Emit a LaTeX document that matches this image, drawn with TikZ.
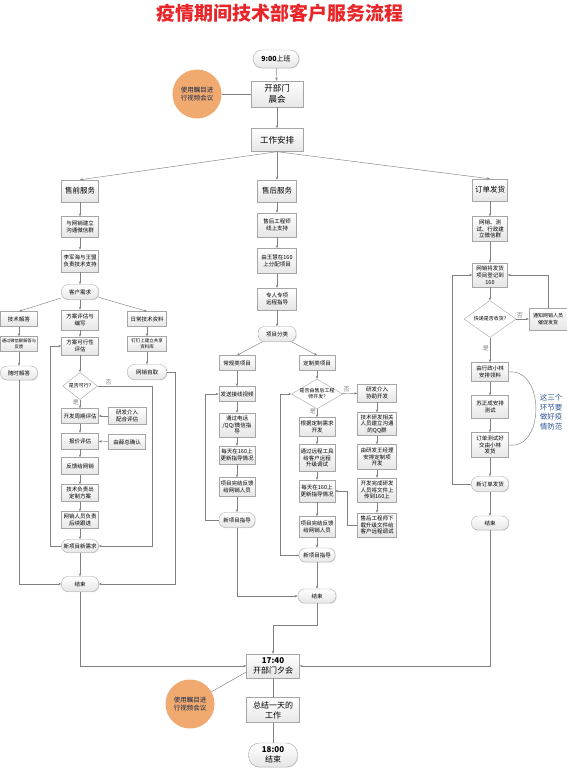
\documentclass[tikz,border=0pt]{standalone}
\usepackage{fontspec}
\setmainfont{Noto Sans CJK SC}
\usetikzlibrary{positioning,shapes.geometric,arrows.meta,shadows}

\definecolor{linegray}{HTML}{808080}
\definecolor{boxgray}{HTML}{E6E6E6}
\definecolor{meetorange}{HTML}{F0A96E}
\definecolor{titlered}{HTML}{E8262A}
\definecolor{noteblue}{HTML}{2F5597}

\tikzset{
  box/.style={draw=gray!70, top color=white, bottom color=boxgray,
    drop shadow={shadow xshift=0.7pt,shadow yshift=-0.7pt,opacity=0.25},
    align=center, inner sep=0.5pt, minimum width=37, minimum height=15,
    font=\fontsize{5.5}{6.8}\selectfont},
  head/.style={box, font=\fontsize{7.5}{9}\selectfont},
  term/.style={box, rounded corners=#1},
  term/.default=6.5pt,
  dec/.style={diamond, draw=gray!70, fill=white, inner sep=0pt, align=center,
    font=\fontsize{5}{6.2}\selectfont},
  meet/.style={circle, fill=meetorange, minimum size=49, inner sep=0pt, align=center,
    text=noteblue!50!black, font=\fontsize{6.5}{8.5}\selectfont},
  yn/.style={font=\fontsize{6}{7}\selectfont, inner sep=1pt},
  flow/.style={->, linegray, line width=0.45pt},
  conn/.style={linegray, line width=0.45pt}
}

\begin{document}
\begin{tikzpicture}[x=1pt, y=-1pt, >={Stealth[length=3pt,width=2.4pt]}]
    \useasboundingbox (0,0) rectangle (567,768);
    %title
    \node[font=\fontsize{19}{19}\selectfont\bfseries, text=titlered] (title) at (280,13) {疫情期间技术部客户服务流程};
    %morning
    \node[term=9pt, minimum width=46, minimum height=18, font=\fontsize{7}{8}\selectfont] (start) at (276,59) {\textbf{9:00}上班};
    \node[box, minimum width=52, minimum height=26, font=\fontsize{8.5}{11}\selectfont] (morning) at (277,94) {开部门\\晨会};
    \node[meet] (video1) at (197,94) {使用瞩目进\\行视频会议};
    \node[box, minimum width=52, minimum height=23, font=\fontsize{8.5}{10}\selectfont] (plan) at (277,140) {工作安排};
    %presales
    \node[head, minimum height=22] (sq) at (80,191) {售前服务};
    \node[box, minimum height=21] (wx) at (80,227) {与网销建立\\沟通微信群};
    \node[box, minimum height=22] (zc) at (80,261) {李军海与王盟\\负责技术支持};
    \node[term] (xq) at (80,292) {客户需求};
    \node[box] (jd) at (19,319) {技术解答};
    \node[box, minimum height=20] (pg) at (80,320) {方案评估与\\编写};
    \node[box, minimum width=39] (zl) at (147,319) {日常技术资料};
    \node[box, font=\fontsize{4.3}{5.5}\selectfont] (wxjd) at (19,344) {通过微信群解答与\\反馈};
    \node[box, minimum height=18] (kx) at (80,346) {方案可行性\\评估};
    \node[box, minimum width=39, font=\fontsize{4.5}{5.7}\selectfont] (gx) at (147,344) {钉钉上建立共享\\资料库};
    \node[term, minimum height=14] (ss) at (19,373) {随时解答};
    \node[term, minimum width=39] (zq) at (147,372) {网销自取};
    \node[dec, minimum width=35, minimum height=17] (kxq) at (80,386) {是否可行?};
    \node[box] (zq1) at (80,416) {开发周期评估};
    \node[box, minimum width=38, minimum height=17] (yf) at (127,416) {研发介入\\配合评估};
    \node[box, minimum height=16] (bj) at (80,441) {报价评估};
    \node[box] (xz) at (127,442) {由薛总确认};
    \node[box, minimum height=17] (fk) at (80,466) {反馈给网销};
    \node[box, minimum height=17] (dz) at (80,493) {技术负责出\\定制方案};
    \node[box, minimum height=17] (gj) at (80,520) {网销人员负责\\后续跟进};
    \node[term, minimum height=13] (xxq) at (80,546) {新项目新需求};
    \node[term] (end1) at (80,584) {结束};
    %aftersales
    \node[head, minimum width=39, minimum height=22] (sh) at (277,191) {售后服务};
    \node[box, minimum width=39, minimum height=24] (xs) at (277,225) {售后工程师\\线上支持};
    \node[box, minimum width=39, minimum height=25] (fp) at (277,261) {由王慧在160\\上分配项目};
    \node[box, minimum width=39, minimum height=22] (zx) at (277,299) {专人专项\\远程指导};
    \node[term, minimum width=38] (fl) at (277,334) {项目分类};
    \node[box, minimum width=36] (cg) at (237,363) {常规类项目};
    \node[box, minimum width=36] (dzl) at (317,363) {定制类项目};
    \node[box, minimum width=36] (sp) at (237,394) {发送接线视频};
    \node[box, minimum width=36, minimum height=24] (dh) at (237,425) {通过电话\\/QQ/微信指\\导};
    \node[box, minimum width=36, minimum height=18] (gx1) at (237,455) {每天在160上\\更新指导情况};
    \node[box, minimum width=36, minimum height=19] (wj1) at (237,487) {项目完结反馈\\给网销人员};
    \node[term, minimum width=36] (zd1) at (237,520) {新项目指导};
    \node[dec, minimum width=51, minimum height=25, inner sep=-4pt] (pd) at (317,394) {是否由售后工程\\师开发?};
    \node[box, minimum width=36, minimum height=19] (gen) at (317,427) {根据定制需求\\开发};
    \node[box, minimum width=36, minimum height=27] (yc) at (317,458) {通过远程工具\\给客户远程\\升级调试};
    \node[box, minimum width=36, minimum height=22] (gx2) at (317,491) {每天在160上\\更新指导情况};
    \node[box, minimum width=36, minimum height=21] (wj2) at (317,527) {项目完结反馈\\给网销人员};
    \node[term, minimum width=36, minimum height=14] (zd2) at (317,555) {新项目指导};
    \node[term, minimum width=38, minimum height=14] (end2) at (317,596) {结束};
    \node[box, minimum width=39, minimum height=18] (yfj) at (377,393) {研发介入\\协助开发};
    \node[box, minimum width=39, minimum height=23] (qq) at (377,424) {技术研发相关\\人员建立沟通\\的QQ群};
    \node[box, minimum width=39, minimum height=25] (jl) at (377,457) {由研发王经理\\安排定制项\\开发};
    \node[box, minimum width=39, minimum height=24] (sc) at (377,490) {开发完成研发\\人员将文件上\\传到160上};
    \node[box, minimum width=39, minimum height=24] (xz2) at (377,525) {售后工程师下\\载升级文件给\\客户远程调试};
    %orders
    \node[head, minimum width=35, minimum height=22] (dd) at (490,190) {订单发货};
    \node[box, minimum width=35, minimum height=25] (wc) at (490,229) {网销、测\\试、行政建\\立微信群};
    \node[box, minimum width=35, minimum height=24] (dj) at (490,275) {网销将发货\\项目登记到\\160};
    \node[dec, minimum width=52, minimum height=23] (kd) at (490,319) {快递是否收货?};
    \node[box, minimum width=38, minimum height=22, font=\fontsize{5}{6.5}\selectfont] (tz) at (548,319) {通知网销人员\\催促发货};
    \node[box, minimum height=19] (ll) at (490,372) {由行政小林\\安排领料};
    \node[box, minimum height=23] (cs) at (490,407) {苏正成安排\\测试};
    \node[box, minimum height=25] (fh) at (490,445) {订单测试好\\交由小林\\发货};
    \node[term] (xfh) at (490,484) {新订单发货};
    \node[term, minimum height=14] (end3) at (490,523) {结束};
    \node[text=noteblue, align=center, font=\fontsize{7.5}{9.5}\selectfont] (note) at (551,412) {这三个\\环节要\\做好疫\\情防范};
    %evening
    \node[box, minimum width=53, minimum height=24, font=\fontsize{8}{9.5}\selectfont] (meet17) at (273,666) {\textbf{17:40}\\开部门夕会};
    \node[meet] (video2) at (190,704) {使用瞩目进\\行视频会议};
    \node[box, minimum width=53, minimum height=25, font=\fontsize{8}{10}\selectfont] (zj) at (273,710) {总结一天的\\工作};
    \node[term=11pt, minimum width=49, minimum height=24, font=\fontsize{8}{9.5}\selectfont] (end4) at (273,755) {\textbf{18:00}\\结束};
    %edges
    \path[flow]
     (start) edge (morning)
     (morning) edge (plan)
     (plan.south) edge (sq.north)
     (plan.south) edge (sh.north)
     (plan.south) edge (dd.north)
     (sq) edge (wx)  (wx) edge (zc)  (zc) edge (xq)
     (xq) edge (jd.north)  (xq) edge (pg)  (xq) edge (zl.north)
     (jd) edge (wxjd)  (wxjd) edge (ss)
     (pg) edge (kx)  (kx) edge (kxq)
     (zl) edge (gx)  (gx) edge (zq)
     (kxq) edge node[yn, left, pos=0.35] {是} (zq1)
     (yf) edge (zq1)  (zq1) edge (bj)  (xz) edge (bj)
     (bj) edge (fk)  (fk) edge (dz)  (dz) edge (gj)  (gj) edge (xxq)
     (xxq) edge (end1)
     (sh) edge (xs)  (xs) edge (fp)  (fp) edge (zx)  (zx) edge (fl)
     (fl) edge (cg.north)  (fl) edge (dzl.north)
     (cg) edge (sp)  (sp) edge (dh)  (dh) edge (gx1)  (gx1) edge (wj1)  (wj1) edge (zd1)
     (dzl) edge (pd)
     (pd) edge node[yn, above, pos=0.3] {否} (yfj)
     (pd) edge node[yn, left, pos=0.3] {是} (gen)
     (gen) edge (yc)  (yc) edge (gx2)  (gx2) edge (wj2)  (wj2) edge (zd2)  (zd2) edge (end2)
     (yfj) edge (qq)  (qq) edge (jl)  (jl) edge (sc)  (sc) edge (xz2)
     (dd) edge (wc)  (wc) edge (dj)  (dj) edge (kd)
     (kd) edge node[yn, above, pos=0.3] {否} (tz)
     (kd) edge node[yn, left, pos=0.45] {是} (ll)
     (ll) edge (cs)  (cs) edge (fh)  (fh) edge (xfh)  (xfh) edge (end3);
    %loops
    \draw[flow] (kxq.east) -- node[yn, above, pos=0.2] {否} ++(54.5,0) |- (xxq.east);
    \draw[flow] (xxq.west) -- ++(-11.5,0) |- (kx.west);
    \draw[flow] (ss.south) |- (end1.west);
    \draw[flow] (zq.east) -- ++(8.5,0) |- (end1.east);
    \draw[flow] (end1.south) |- (meet17.west);
    \draw[flow] (zd1.west) -- ++(-14,0) |- (sp.west);
    \draw[flow] (zd1.south) |- (end2.west);
    \draw[flow] (zd2.west) -- ++(-18.5,0) |- (pd.west);
    \draw[flow] (xz2.west) -- ++(-10,0) |- (gx2.east);
    \draw[flow] (end2.south) -- ++(0,22) -| (meet17.north);
    \draw[flow] (tz.north) |- (dj.east);
    \draw[flow] (xfh.west) -- ++(-19.5,0) |- (dj.west);
    \draw[flow] (end3.south) |- (meet17.east);
    \draw[conn] (ll.east) .. controls (545,368) and (545,450) .. (fh.east);
    %meetings
    \draw[conn] (video1) -- (morning);
    \draw[conn] (video2) -- ([yshift=-6pt]meet17.west);
    \draw[conn] (meet17) -- (zj);
    \draw[conn] (zj) -- (end4);
\end{tikzpicture}
\end{document}
